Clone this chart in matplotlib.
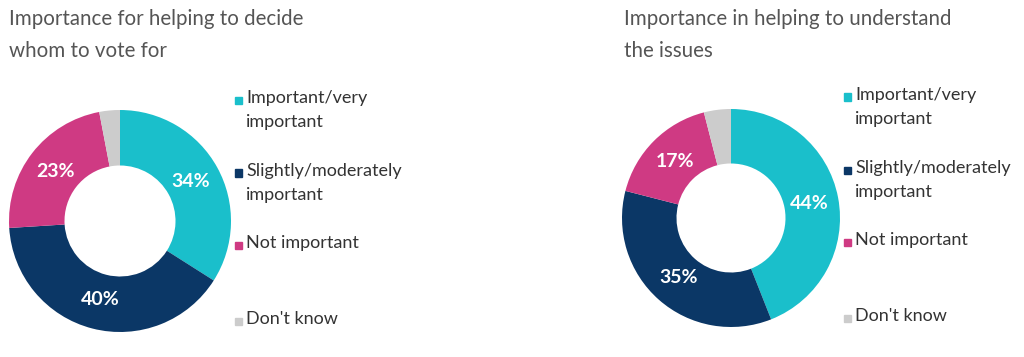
import numpy as np
import matplotlib.pyplot as plt

plt.rcParams['font.family'] = ['Lato', 'DejaVu Sans']

categories = ['Important/very\nimportant', 'Slightly/moderately\nimportant', 'Not important', "Don't know"]
vote_values = [34, 40, 23, 3]
issues_values = [44, 35, 17, 4]
titles = ['Importance for helping to decide\nwhom to vote for',
          'Importance in helping to understand\nthe issues']
colors = ['#1ABFCB', '#0B3766', '#CF3A83', '#CCCCCC']

W, H = 1024, 357
fig = plt.figure(figsize=(W / 100, H / 100), dpi=100)


def px_axes(x0, y0, x1, y1):
    return fig.add_axes([x0 / W, 1 - y1 / H, (x1 - x0) / W, (y1 - y0) / H])


def donut(ax, values):
    ax.pie(values, colors=colors, startangle=90, counterclock=False,
           wedgeprops=dict(width=0.5, edgecolor='none'))
    ax.set_xlim(-1, 1)
    ax.set_ylim(-1, 1)
    ax.set_aspect('equal')
    ax.axis('off')
    total = sum(values)
    start = 90
    for v in values[:3]:
        mid = np.deg2rad(start - v / total * 360 / 2)
        ax.text(0.73 * np.cos(mid), 0.73 * np.sin(mid), f'{v}%', color='white',
                fontsize=14, fontweight='bold', ha='center', va='center')
        start -= v / total * 360


def legend(x_sq, x_txt, ys):
    for c, label, y in zip(colors, categories, ys):
        fig.patches.append(plt.Rectangle(((x_sq - 3.5) / W, 1 - (y + 3.5) / H), 7 / W, 7 / H,
                                         transform=fig.transFigure, color=c, figure=fig))
        fig.text(x_txt / W, 1 - (y - 10) / H, label, fontsize=13, color='#333333',
                 va='top', ha='left', linespacing=1.65)


ax1 = px_axes(9, 110, 231, 332)
donut(ax1, vote_values)
ax2 = px_axes(622, 107, 840, 329)
donut(ax2, issues_values)

fig.text(9 / W, 1 - 9 / H, titles[0], fontsize=14.8, color='#555555', va='top', ha='left', linespacing=1.75)
fig.text(624 / W, 1 - 9 / H, titles[1], fontsize=14.8, color='#555555', va='top', ha='left', linespacing=1.75)

legend(238, 246, [100, 173, 245, 321])
legend(847, 855, [97, 170, 242, 318])

fig.savefig('out.png', dpi=100, facecolor='white')
